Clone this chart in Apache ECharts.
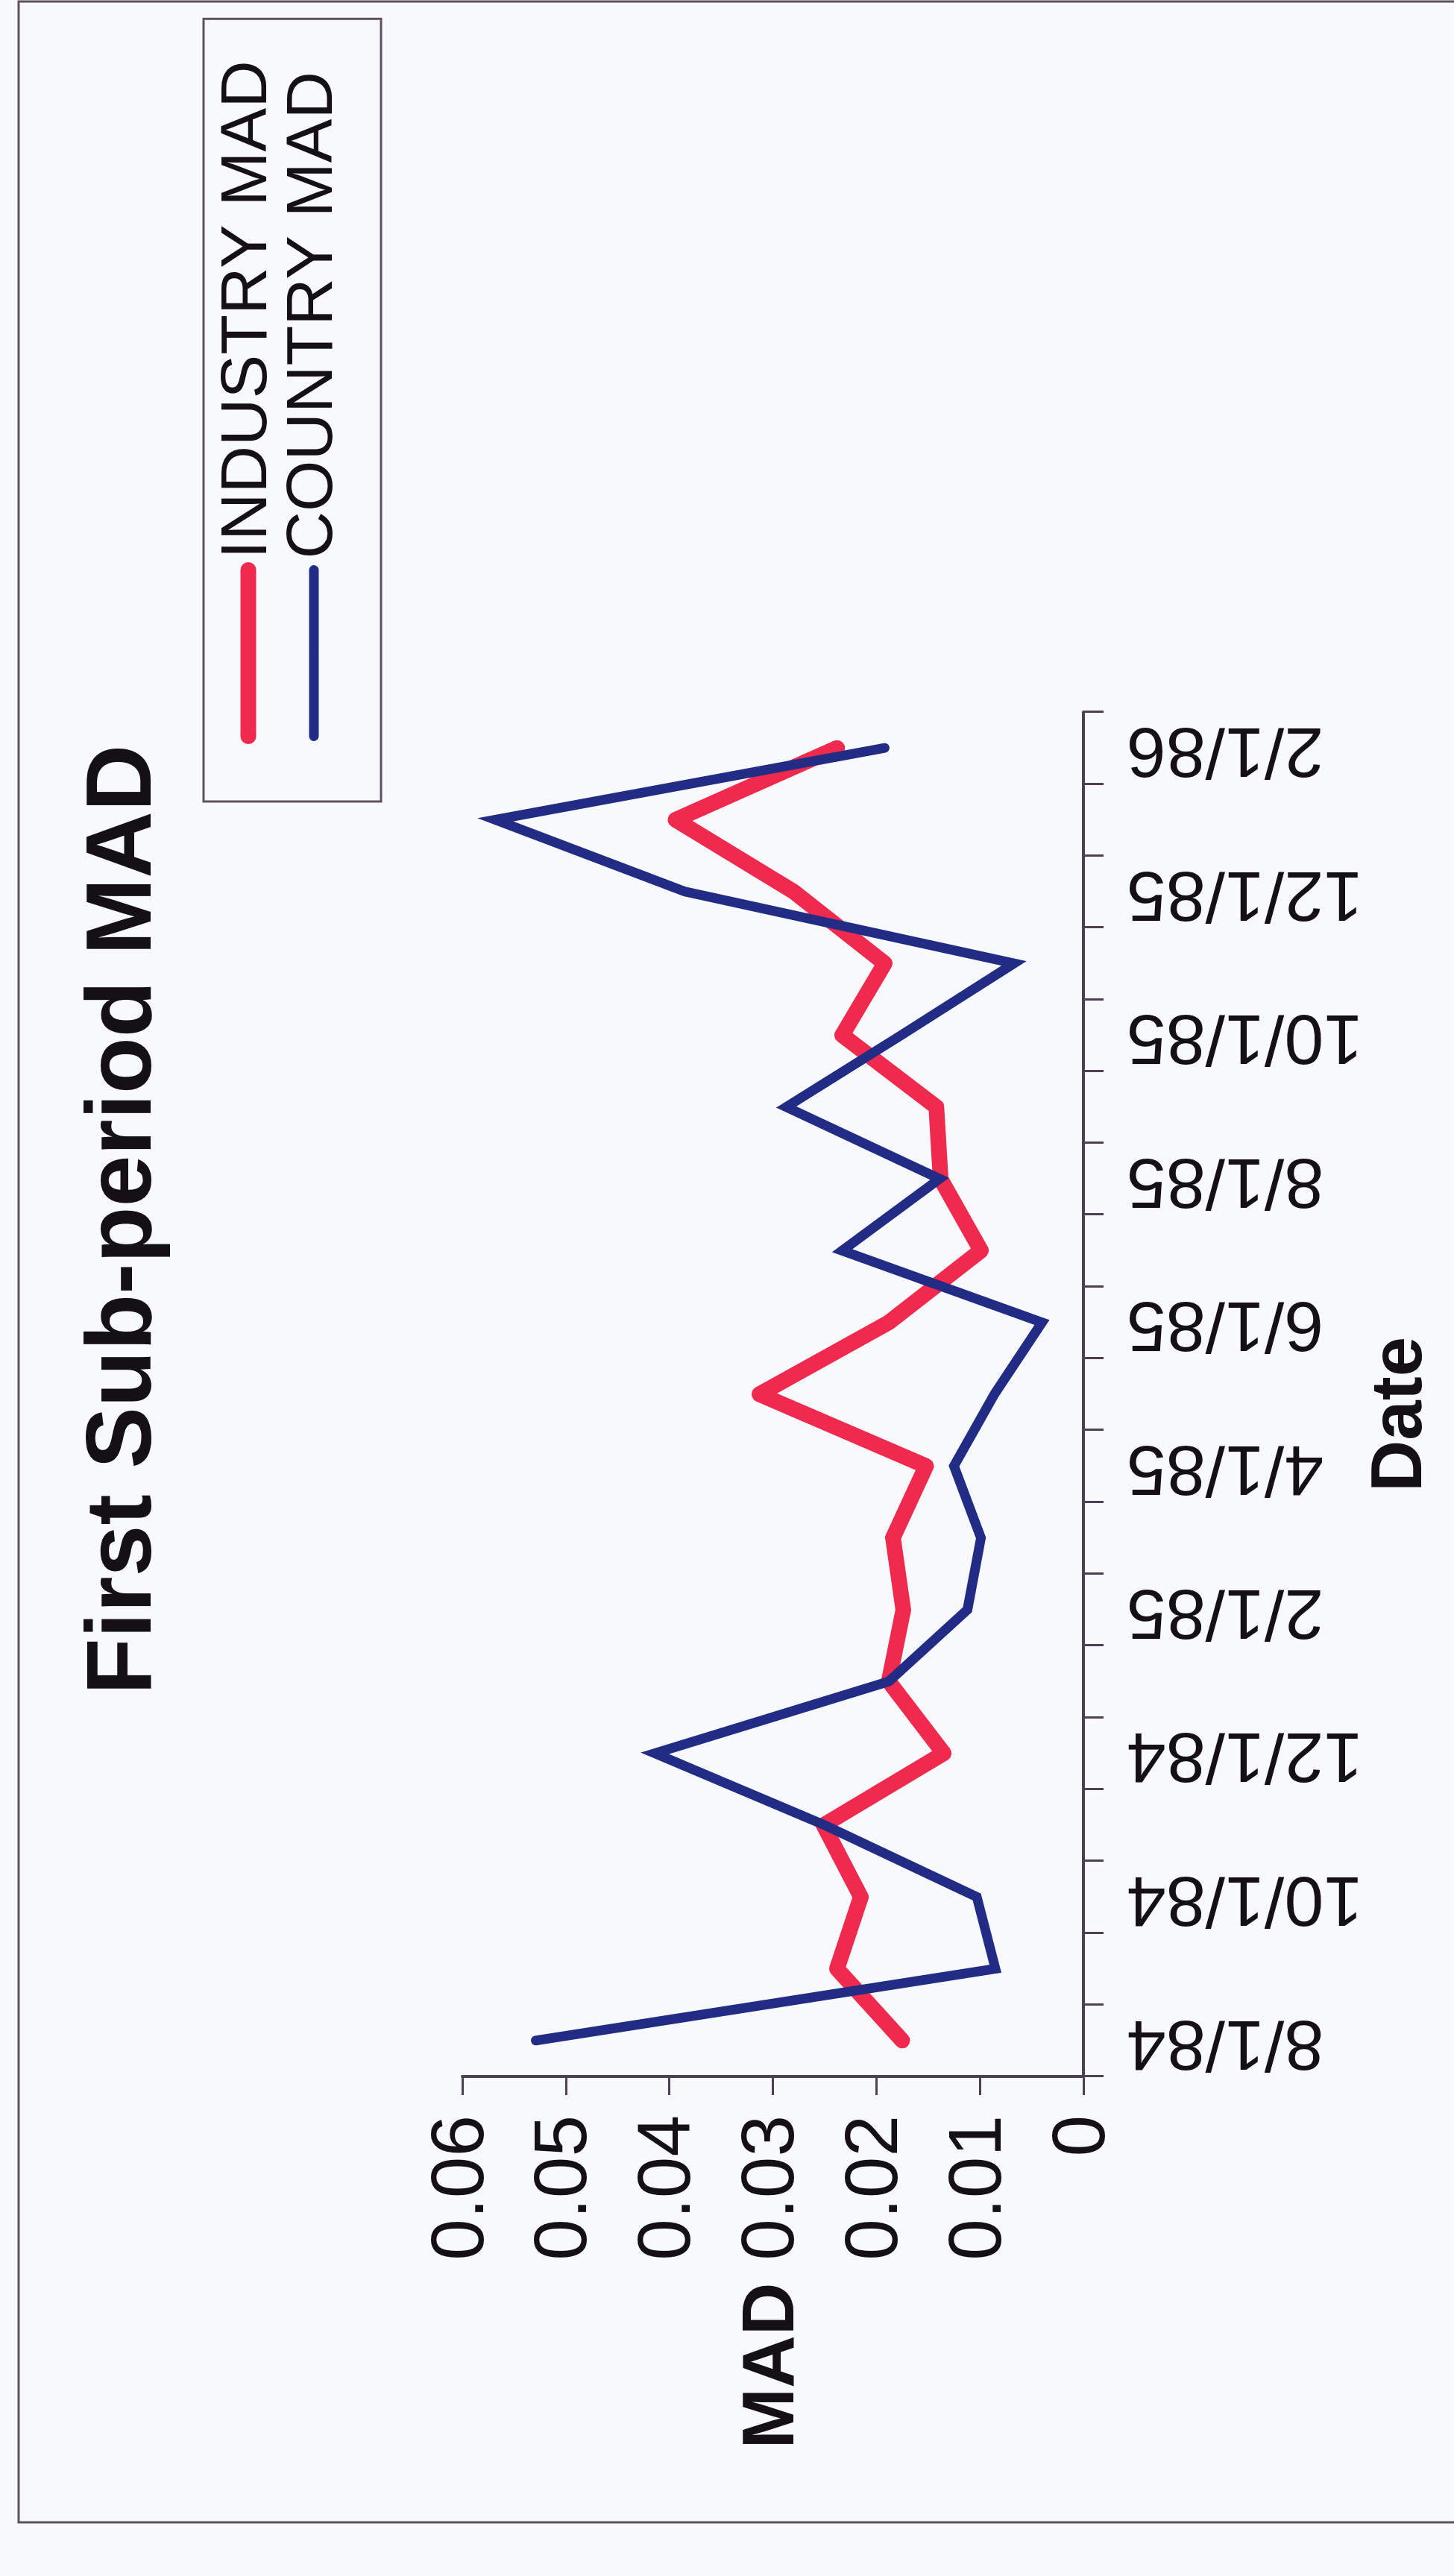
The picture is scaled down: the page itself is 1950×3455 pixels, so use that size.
<!DOCTYPE html>
<html>
<head>
<meta charset="utf-8">
<script src="https://cdn.jsdelivr.net/npm/echarts@6/dist/echarts.min.js"></script>
<style>
  html, body { margin: 0; padding: 0; background: #f8f9fc; }
  #page { position: absolute; left: 0; top: 0; width: 1950px; height: 3455px; overflow: hidden; background: #f8f9fc; }
  /* The chart is laid out landscape and turned a quarter turn counter-clockwise onto the portrait page */
  #chart { position: absolute; left: 0; top: 3455px; width: 3455px; height: 1950px;
           transform-origin: 0 0; transform: rotate(-90deg); }
</style>
</head>
<body>
<div id="page"><div id="chart"></div></div>
<script>
// Month starts of the first sub-period
const dates = ['8/1/84', '9/1/84', '10/1/84', '11/1/84', '12/1/84', '1/1/85', '2/1/85', '3/1/85',
               '4/1/85', '5/1/85', '6/1/85', '7/1/85', '8/1/85', '9/1/85', '10/1/85', '11/1/85',
               '12/1/85', '1/1/86', '2/1/86'];

// Mean absolute deviation per month
const industryMAD = [0.0175, 0.0238, 0.0215, 0.0251, 0.0135, 0.0188, 0.0174, 0.0184, 0.0152, 0.0313,
                     0.0188, 0.0099, 0.0138, 0.0142, 0.0233, 0.0192, 0.0280, 0.0394, 0.0238];
const countryMAD = [0.0529, 0.0085, 0.0103, 0.0250, 0.0414, 0.0188, 0.0112, 0.0099, 0.0125, 0.0086,
                    0.0040, 0.0233, 0.0139, 0.0287, 0.0176, 0.0067, 0.0385, 0.0568, 0.0192];

const madTicks = { min: 0, max: 0.06, interval: 0.01 };

const AXIS = '#4d4255';
const INK = '#141014';
const SANS = '"Liberation Sans", Arial, Helvetica, sans-serif';
const NARROW = '"Liberation Sans Narrow", "Arial Narrow", "Liberation Sans", Arial, sans-serif';

const chart = echarts.init(document.getElementById('chart'), null, { renderer: 'canvas' });

chart.setOption({
  backgroundColor: 'transparent',
  animation: false,
  title: {
    text: 'First Sub-period MAD',
    left: 1182,
    top: 106,
    padding: 0,
    textStyle: { fontFamily: SANS, fontWeight: 'bold', fontSize: 124, color: INK }
  },
  legend: {
    orient: 'vertical',
    left: 2380,
    top: 273,
    padding: [16, 56, 46, 77],
    borderColor: '#5e5262',
    borderWidth: 3,
    itemWidth: 223,
    itemHeight: 12,
    itemGap: 0,
    lineStyle: { width: 'inherit', cap: 'round' },
    textStyle: { fontFamily: NARROW, fontSize: 88, color: INK, lineHeight: 88, padding: [0, 0, 0, 10] },
    data: ['INDUSTRY MAD', 'COUNTRY MAD']
  },
  grid: { left: 670, top: 620, width: 1830, height: 833, containLabel: false },
  xAxis: {
    type: 'category',
    data: dates,
    boundaryGap: true,
    name: 'Date',
    nameLocation: 'middle',
    nameGap: 412,
    nameTextStyle: { fontFamily: SANS, fontWeight: 'bold', fontSize: 96, color: INK,
                     verticalAlign: 'middle', padding: [0, 54, 0, 0] },
    axisLine: { show: true, lineStyle: { color: AXIS, width: 4 } },
    axisTick: { show: true, interval: 0, length: 27, lineStyle: { color: AXIS, width: 3 } },
    axisLabel: { interval: 1, rotate: 90, margin: 58, fontFamily: SANS, fontSize: 95, color: INK },
    splitLine: { show: false }
  },
  yAxis: {
    type: 'value',
    min: madTicks.min,
    max: madTicks.max,
    interval: madTicks.interval,
    name: 'MAD',
    nameLocation: 'middle',
    nameRotate: 0,
    nameGap: 388,
    nameTextStyle: { fontFamily: SANS, fontWeight: 'bold', fontSize: 98, color: INK, align: 'center', verticalAlign: 'middle' },
    axisLine: { show: true, lineStyle: { color: AXIS, width: 4 } },
    axisTick: { show: true, length: 25, lineStyle: { color: AXIS, width: 3 } },
    axisLabel: { margin: 52, fontFamily: SANS, fontSize: 100, color: INK },
    splitLine: { show: false }
  },
  graphic: [{
    type: 'rect',
    silent: true,
    shape: { x: 72, y: 25, width: 3381, height: 2100 },
    style: { fill: 'none', stroke: '#5e5262', lineWidth: 3 }
  }],
  series: [
    {
      name: 'INDUSTRY MAD',
      type: 'line',
      data: industryMAD,
      symbol: 'none',
      smooth: false,
      color: '#f02a4e',
      lineStyle: { width: 21, color: '#f02a4e', cap: 'round', join: 'round' },
      z: 2
    },
    {
      name: 'COUNTRY MAD',
      type: 'line',
      data: countryMAD,
      symbol: 'none',
      smooth: false,
      color: '#222c84',
      lineStyle: { width: 13, color: '#222c84', cap: 'round', join: 'miter' },
      z: 3
    }
  ]
});
</script>
</body>
</html>
